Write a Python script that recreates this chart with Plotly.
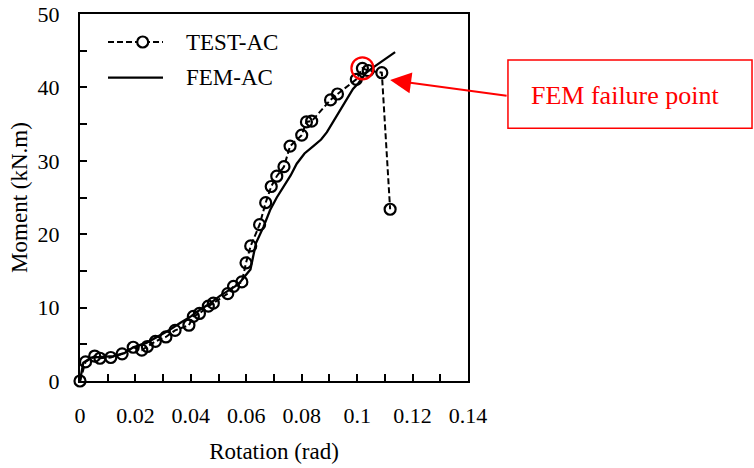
import plotly.graph_objects as go

# Experimental moment-rotation curve (TEST-AC)
test_rot = [0, 0.0020, 0.0053, 0.0072, 0.0111, 0.0152, 0.0192, 0.0223, 0.0243,
            0.0272, 0.0310, 0.0343, 0.0393, 0.0409, 0.0431, 0.0463, 0.0481,
            0.0533, 0.0554, 0.0584, 0.0599, 0.0616, 0.0648, 0.0670, 0.0690,
            0.0710, 0.0736, 0.0758, 0.0800, 0.0817, 0.0836, 0.0904, 0.0929,
            0.0997, 0.1019, 0.1040, 0.1089, 0.1119]
test_mom = [0, 2.6, 3.4, 3.1, 3.2, 3.7, 4.6, 4.2, 4.7,
            5.4, 6.0, 6.9, 7.6, 8.8, 9.2, 10.2, 10.6,
            11.9, 12.9, 13.5, 16.1, 18.4, 21.3, 24.3, 26.5,
            27.9, 29.2, 32.0, 33.5, 35.3, 35.4, 38.3, 39.1,
            41.1, 42.6, 42.3, 42.0, 23.4]

# Finite element prediction (FEM-AC)
fem_rot = [0, 0.0012, 0.0040, 0.0080, 0.0120, 0.0160, 0.0192, 0.0240, 0.0277,
           0.0321, 0.0361, 0.0400, 0.0433, 0.0470, 0.0505, 0.0540, 0.0572,
           0.0600, 0.0615, 0.0625, 0.0635, 0.0662, 0.0686, 0.0710, 0.0734,
           0.0760, 0.0782, 0.0810, 0.0842, 0.0870, 0.0891, 0.0921, 0.0945,
           0.0963, 0.0985, 0.1005, 0.1030, 0.1053, 0.1095, 0.1137]
fem_mom = [0, 2.5, 3.2, 3.3, 3.4, 3.8, 4.6, 5.2, 6.0,
           6.9, 7.9, 8.8, 9.7, 10.6, 11.6, 12.4, 13.2,
           14.5, 15.2, 17.0, 18.8, 21.0, 23.3, 25.0, 26.4,
           28.0, 29.6, 31.0, 32.0, 32.9, 33.9, 35.8, 37.2,
           38.3, 39.8, 40.6, 41.9, 42.6, 43.7, 44.8]

x_tickvals = [0, 0.01, 0.02, 0.03, 0.04, 0.05, 0.06, 0.07, 0.08, 0.09, 0.10, 0.11, 0.12, 0.13, 0.14]
x_ticktext = ["0", "", "0.02", "", "0.04", "", "0.06", "", "0.08", "", "0.1", "", "0.12", "", "0.14"]
y_tickvals = [0, 5, 10, 15, 20, 25, 30, 35, 40, 45, 50]
y_ticktext = ["0", "", "10", "", "20", "", "30", "", "40", "", "50"]

legend_names = ["TEST-AC", "FEM-AC"]
failure_label = "FEM failure point"
failure_idx = 34  # test point marked as the FEM failure point

FONT = "Liberation Serif, Times New Roman, serif"
RED = "#ff0000"

fig = go.Figure()

fig.add_trace(go.Scatter(
    x=test_rot, y=test_mom, mode="lines+markers", name=legend_names[0],
    line=dict(color="black", width=2, dash="6px,3px"),
    marker=dict(symbol="circle-open", size=11, color="black", line=dict(width=2.2)),
    cliponaxis=False, showlegend=False,
))
fig.add_trace(go.Scatter(
    x=fem_rot, y=fem_mom, mode="lines", name=legend_names[1],
    line=dict(color="black", width=2.3),
    cliponaxis=False, showlegend=False,
))

shapes = []
# red ring around the failure point
shapes.append(dict(
    type="circle", xref="x", yref="y", xsizemode="pixel", ysizemode="pixel",
    xanchor=test_rot[failure_idx], yanchor=test_mom[failure_idx],
    x0=-11, x1=11, y0=-11, y1=11, line=dict(color=RED, width=2.2),
))
# callout box
shapes.append(dict(
    type="rect", xref="paper", yref="paper",
    x0=1.103, x1=1.732, y0=0.689, y1=0.8747,
    line=dict(color=RED, width=1.5), fillcolor="white", layer="above",
))
# legend keys
leg_x0, leg_x1, leg_y = 0.0722, 0.2139, [0.9237, 0.8264]
shapes.append(dict(type="line", xref="paper", yref="paper",
                   x0=leg_x0, x1=leg_x1, y0=leg_y[0], y1=leg_y[0],
                   line=dict(color="black", width=2, dash="6px,3px")))
shapes.append(dict(type="circle", xref="paper", yref="paper",
                   xsizemode="pixel", ysizemode="pixel",
                   xanchor=0.1616, yanchor=leg_y[0], x0=-5.5, x1=5.5, y0=-5.5, y1=5.5,
                   line=dict(color="black", width=2.2), fillcolor="white"))
shapes.append(dict(type="line", xref="paper", yref="paper",
                   x0=leg_x0, x1=leg_x1, y0=leg_y[1], y1=leg_y[1],
                   line=dict(color="black", width=2.3)))

annotations = []
for name, yy in zip(legend_names, leg_y):
    annotations.append(dict(
        text=name, xref="paper", yref="paper", x=0.268, y=yy,
        xanchor="left", yanchor="middle", showarrow=False,
        font=dict(family=FONT, size=23, color="black"),
    ))
annotations.append(dict(
    text=failure_label, xref="paper", yref="paper", x=1.407, y=0.779,
    xanchor="center", yanchor="middle", showarrow=False,
    font=dict(family=FONT, size=26, color=RED),
))
annotations.append(dict(
    text="", x=0.1119, y=41.0, xref="x", yref="y",
    ax=118, ay=16, showarrow=True, arrowhead=2, arrowsize=2.1,
    arrowwidth=2, arrowcolor=RED, standoff=0,
))

axis_common = dict(
    showline=True, linecolor="black", linewidth=2, mirror=True,
    ticks="inside", ticklen=7, tickwidth=1.5, tickcolor="black",
    showgrid=False, zeroline=False, tickmode="array", automargin=False,
    tickfont=dict(family=FONT, size=22, color="black"),
)

fig.update_layout(
    width=754, height=468,
    margin=dict(l=80, r=286, t=14, b=87, pad=0),
    plot_bgcolor="white", paper_bgcolor="white",
    shapes=shapes, annotations=annotations,
    xaxis=dict(range=[0, 0.14], tickvals=x_tickvals, ticktext=x_ticktext,
               ticklabelstandoff=14,
               title=dict(text="Rotation (rad)", standoff=15,
                          font=dict(family=FONT, size=23, color="black")),
               **axis_common),
    yaxis=dict(range=[0, 50], tickvals=y_tickvals, ticktext=y_ticktext,
               ticklabelstandoff=14,
               title=dict(text="Moment (kN.m)", standoff=4,
                          font=dict(family=FONT, size=23, color="black")),
               **axis_common),
)

fig.write_html("out.html")
